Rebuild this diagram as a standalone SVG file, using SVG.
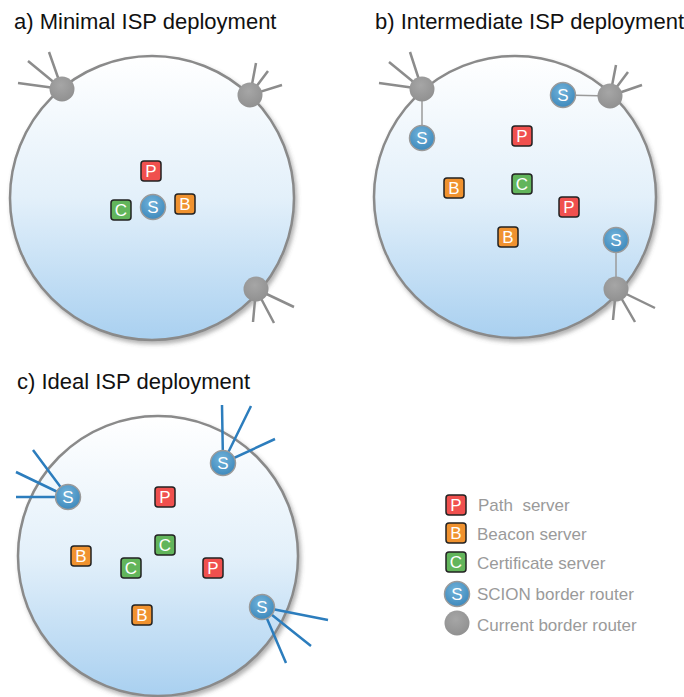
<svg xmlns="http://www.w3.org/2000/svg" width="684" height="697" viewBox="0 0 684 697">
<defs>
<linearGradient id="bg" x1="0" y1="0" x2="0" y2="1">
<stop offset="0" stop-color="#ffffff"/>
<stop offset="0.5" stop-color="#e3f0fa"/>
<stop offset="1" stop-color="#a9d0f0"/>
</linearGradient>
<radialGradient id="sg" cx="0.45" cy="0.35" r="0.7">
<stop offset="0" stop-color="#72b3da"/>
<stop offset="1" stop-color="#3a86ba"/>
</radialGradient>
<radialGradient id="gg" cx="0.45" cy="0.35" r="0.7">
<stop offset="0" stop-color="#a6a6a6"/>
<stop offset="1" stop-color="#8f8f8f"/>
</radialGradient>
<filter id="sh" x="-10%" y="-10%" width="125%" height="125%">
<feDropShadow dx="2" dy="3" stdDeviation="2" flood-color="#555" flood-opacity="0.45"/>
</filter>
<style>
.rim{fill:url(#bg);stroke:#8a8a8a;stroke-width:2.5;filter:url(#sh)}
.spoke{stroke:#8c8c8c;stroke-width:2.5;fill:none}
.bspoke{stroke:#2c7dbd;stroke-width:2.5;fill:none}
.link{stroke:#9a9a9a;stroke-width:1.5;fill:none}
.cur{fill:url(#gg)}
.scion{fill:url(#sg);stroke:#9a9a9a;stroke-width:1.5}
.box{stroke:#222;stroke-width:1.5}
.p{fill:#f0504e}
.b{fill:#f0922f}
.c{fill:#62b55b}
.lbl{font-family:"Liberation Sans",Arial,sans-serif;font-size:17px;fill:#fff;text-anchor:middle}
.title{font-family:"Liberation Sans",Arial,sans-serif;font-size:22px;fill:#111}
.leg{font-family:"Liberation Sans",Arial,sans-serif;font-size:17px;fill:#9a9a9a}
</style>
</defs>

<text class="title" x="14" y="29">a) Minimal ISP deployment</text>
<text class="title" x="375" y="29">b) Intermediate ISP deployment</text>
<text class="title" x="17" y="389">c) Ideal ISP deployment</text>

<g id="isp-a"><circle class="rim" cx="152" cy="198" r="142"/></g>
<g id="isp-b"><circle class="rim" cx="515" cy="197" r="141"/></g>
<g id="isp-c"><circle class="rim" cx="158" cy="556" r="140"/></g>

<g id="connectors">
<path class="spoke" d="M62 89L18 83M62 89L28 61M62 89L49 52"/>
<path class="spoke" d="M250 95L256 63M250 95L268 71M250 95L282 85"/>
<path class="spoke" d="M256 289L294 307M256 289L274 323M256 289L253 322"/>
<path class="spoke" d="M422 89L379 83M422 89L389 62M422 89L410 52"/>
<path class="spoke" d="M610 96L616 65M610 96L628 72M610 96L642 85"/>
<path class="spoke" d="M616 289L613 320M616 289L635 322M616 289L655 308"/>
<path class="link" d="M422 89L422 138M610 96L563 95M616 289L616 240"/>
<path class="bspoke" d="M68 497L33 450M68 497L16 472M68 497L16 497"/>
<path class="bspoke" d="M223 463L222 405M223 463L251 406M223 463L275 439"/>
<path class="bspoke" d="M262 607L328 620M262 607L311 646M262 607L286 663"/>
</g>

<g id="a-r1"><circle class="cur" cx="62" cy="89" r="12.5"/></g>
<g id="a-r2"><circle class="cur" cx="250" cy="95" r="12.5"/></g>
<g id="a-r3"><circle class="cur" cx="256" cy="289" r="12.5"/></g>
<g id="a-p"><rect class="box p" x="141" y="161" width="20" height="20" rx="3"/><text class="lbl" x="151" y="177">P</text></g>
<g id="a-c"><rect class="box c" x="111" y="200" width="20" height="20" rx="3"/><text class="lbl" x="121" y="216">C</text></g>
<g id="a-s"><circle class="scion" cx="153" cy="207" r="12.5"/><text class="lbl" x="153" y="213">S</text></g>
<g id="a-b"><rect class="box b" x="175" y="194" width="20" height="20" rx="3"/><text class="lbl" x="185" y="210">B</text></g>

<g id="b-r1"><circle class="cur" cx="422" cy="89" r="12.5"/></g>
<g id="b-r2"><circle class="cur" cx="610" cy="96" r="12.5"/></g>
<g id="b-r3"><circle class="cur" cx="616" cy="289" r="12.5"/></g>
<g id="b-s1"><circle class="scion" cx="422" cy="138" r="12.5"/><text class="lbl" x="422" y="144">S</text></g>
<g id="b-s2"><circle class="scion" cx="563" cy="95" r="12.5"/><text class="lbl" x="563" y="101">S</text></g>
<g id="b-s3"><circle class="scion" cx="616" cy="240" r="12.5"/><text class="lbl" x="616" y="246">S</text></g>
<g id="b-p1"><rect class="box p" x="512" y="126" width="20" height="20" rx="3"/><text class="lbl" x="522" y="142">P</text></g>
<g id="b-b1"><rect class="box b" x="444" y="178" width="20" height="20" rx="3"/><text class="lbl" x="454" y="194">B</text></g>
<g id="b-c"><rect class="box c" x="512" y="174" width="20" height="20" rx="3"/><text class="lbl" x="522" y="190">C</text></g>
<g id="b-p2"><rect class="box p" x="559" y="197" width="20" height="20" rx="3"/><text class="lbl" x="569" y="213">P</text></g>
<g id="b-b2"><rect class="box b" x="498" y="227" width="20" height="20" rx="3"/><text class="lbl" x="508" y="243">B</text></g>

<g id="c-s1"><circle class="scion" cx="68" cy="497" r="12.5"/><text class="lbl" x="68" y="503">S</text></g>
<g id="c-s2"><circle class="scion" cx="223" cy="463" r="12.5"/><text class="lbl" x="223" y="469">S</text></g>
<g id="c-s3"><circle class="scion" cx="262" cy="607" r="12.5"/><text class="lbl" x="262" y="613">S</text></g>
<g id="c-p1"><rect class="box p" x="155" y="487" width="20" height="20" rx="3"/><text class="lbl" x="165" y="503">P</text></g>
<g id="c-c1"><rect class="box c" x="155" y="535" width="20" height="20" rx="3"/><text class="lbl" x="165" y="551">C</text></g>
<g id="c-b1"><rect class="box b" x="71" y="546" width="20" height="20" rx="3"/><text class="lbl" x="81" y="562">B</text></g>
<g id="c-c2"><rect class="box c" x="121" y="558" width="20" height="20" rx="3"/><text class="lbl" x="131" y="574">C</text></g>
<g id="c-p2"><rect class="box p" x="203" y="558" width="20" height="20" rx="3"/><text class="lbl" x="213" y="574">P</text></g>
<g id="c-b2"><rect class="box b" x="132" y="605" width="20" height="20" rx="3"/><text class="lbl" x="142" y="621">B</text></g>

<g id="legend">
<rect class="box p" x="446" y="495" width="20" height="20" rx="3"/><text class="lbl" x="456" y="511">P</text>
<text class="leg" x="478" y="511" xml:space="preserve">Path  server</text>
<rect class="box b" x="446" y="523" width="20" height="20" rx="3"/><text class="lbl" x="456" y="539">B</text>
<text class="leg" x="477" y="540">Beacon server</text>
<rect class="box c" x="446" y="552" width="20" height="20" rx="3"/><text class="lbl" x="456" y="568">C</text>
<text class="leg" x="477" y="569">Certificate server</text>
<circle class="scion" cx="457" cy="594" r="12.5"/><text class="lbl" x="457" y="600">S</text>
<text class="leg" x="477" y="600">SCION border router</text>
<circle class="cur" cx="457" cy="623" r="12.5"/>
<text class="leg" x="477" y="631">Current border router</text>
</g>
</svg>
